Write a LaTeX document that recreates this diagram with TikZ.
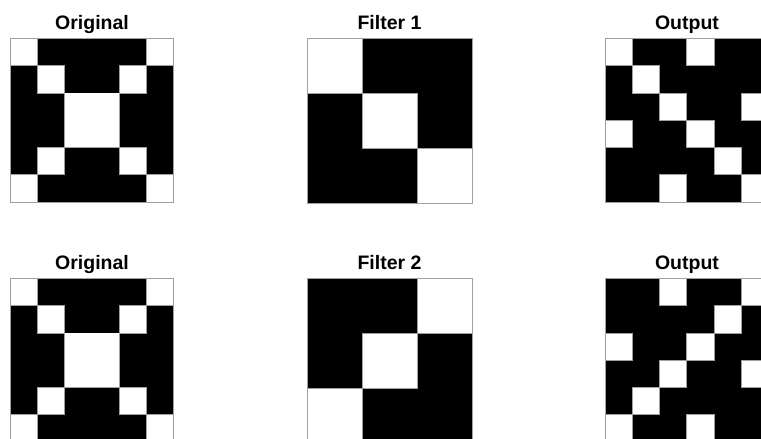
\documentclass[tikz,border=0pt]{standalone}
\usepackage{fontspec}
\setmainfont{Liberation Sans}
\newcommand{\mygrid}[5]{% x0, y0, cell, n, pattern
  \foreach \rowv [count=\r from 0] in {#5} {
    \foreach \v [count=\c from 0] in \rowv {
      \ifnum\v=1
        \fill[black] ({#1+\c*#3},{#2+\r*#3}) rectangle ++(#3,#3);
      \fi
    }
  }
  \foreach \rowv [count=\r from 0] in {#5} {
    \foreach \v [count=\c from 0] in \rowv {
      \ifnum\v=0
        \draw[gridline] ({#1+\c*#3},{#2+\r*#3}) rectangle ++(#3,#3);
      \fi
    }
  }
  \draw[gridline] (#1,#2) rectangle ++({#4*#3},{#4*#3});
}
% white patch covering internal lines of the central 2x2 white block
\newcommand{\centerpatch}[3]{% x0, y0, cell
  \fill[white] ({#1+2*#3+0.45},{#2+2*#3+0.45}) rectangle ({#1+4*#3-0.45},{#2+4*#3-0.45});
}
\tikzset{
  gridline/.style={draw=gray!75, line width=0.9pt},
  ttl/.style={font=\bfseries\fontsize{19.5}{22}\selectfont, anchor=base, inner sep=0pt}
}
\begin{document}
\begin{tikzpicture}[x=1pt,y=-1pt]
\useasboundingbox (0,0) rectangle (761,439);
\clip (0,0) rectangle (761,439);
\fill[white] (0,0) rectangle (761,439);
% titles
\node[ttl] (t1) at (92,29) {Original};
\node[ttl] (t2) at (389.5,29) {Filter 1};
\node[ttl] (t3) at (687,29) {Output};
\node[ttl] (t4) at (92,269) {Original};
\node[ttl] (t5) at (389.5,269) {Filter 2};
\node[ttl] (t6) at (687,269) {Output};
% top row
\mygrid{10}{38.5}{27.25}{6}{{0,1,1,1,1,0},{1,0,1,1,0,1},{1,1,0,0,1,1},{1,1,0,0,1,1},{1,0,1,1,0,1},{0,1,1,1,1,0}}
\centerpatch{10}{38.5}{27.25}
\mygrid{307}{38.5}{55}{3}{{0,1,1},{1,0,1},{1,1,0}}
\mygrid{605}{38.5}{27.25}{6}{{0,1,1,0,1,1},{1,0,1,1,1,1},{1,1,0,1,1,0},{0,1,1,0,1,1},{1,1,1,1,0,1},{1,1,0,1,1,0}}
% bottom row
\mygrid{10}{278.5}{27.25}{6}{{0,1,1,1,1,0},{1,0,1,1,0,1},{1,1,0,0,1,1},{1,1,0,0,1,1},{1,0,1,1,0,1},{0,1,1,1,1,0}}
\centerpatch{10}{278.5}{27.25}
\mygrid{307}{278.5}{55}{3}{{1,1,0},{1,0,1},{0,1,1}}
\mygrid{605}{278.5}{27.25}{6}{{1,1,0,1,1,0},{1,1,1,1,0,1},{0,1,1,0,1,1},{1,1,0,1,1,0},{1,0,1,1,1,1},{0,1,1,0,1,1}}
\end{tikzpicture}
\end{document}
